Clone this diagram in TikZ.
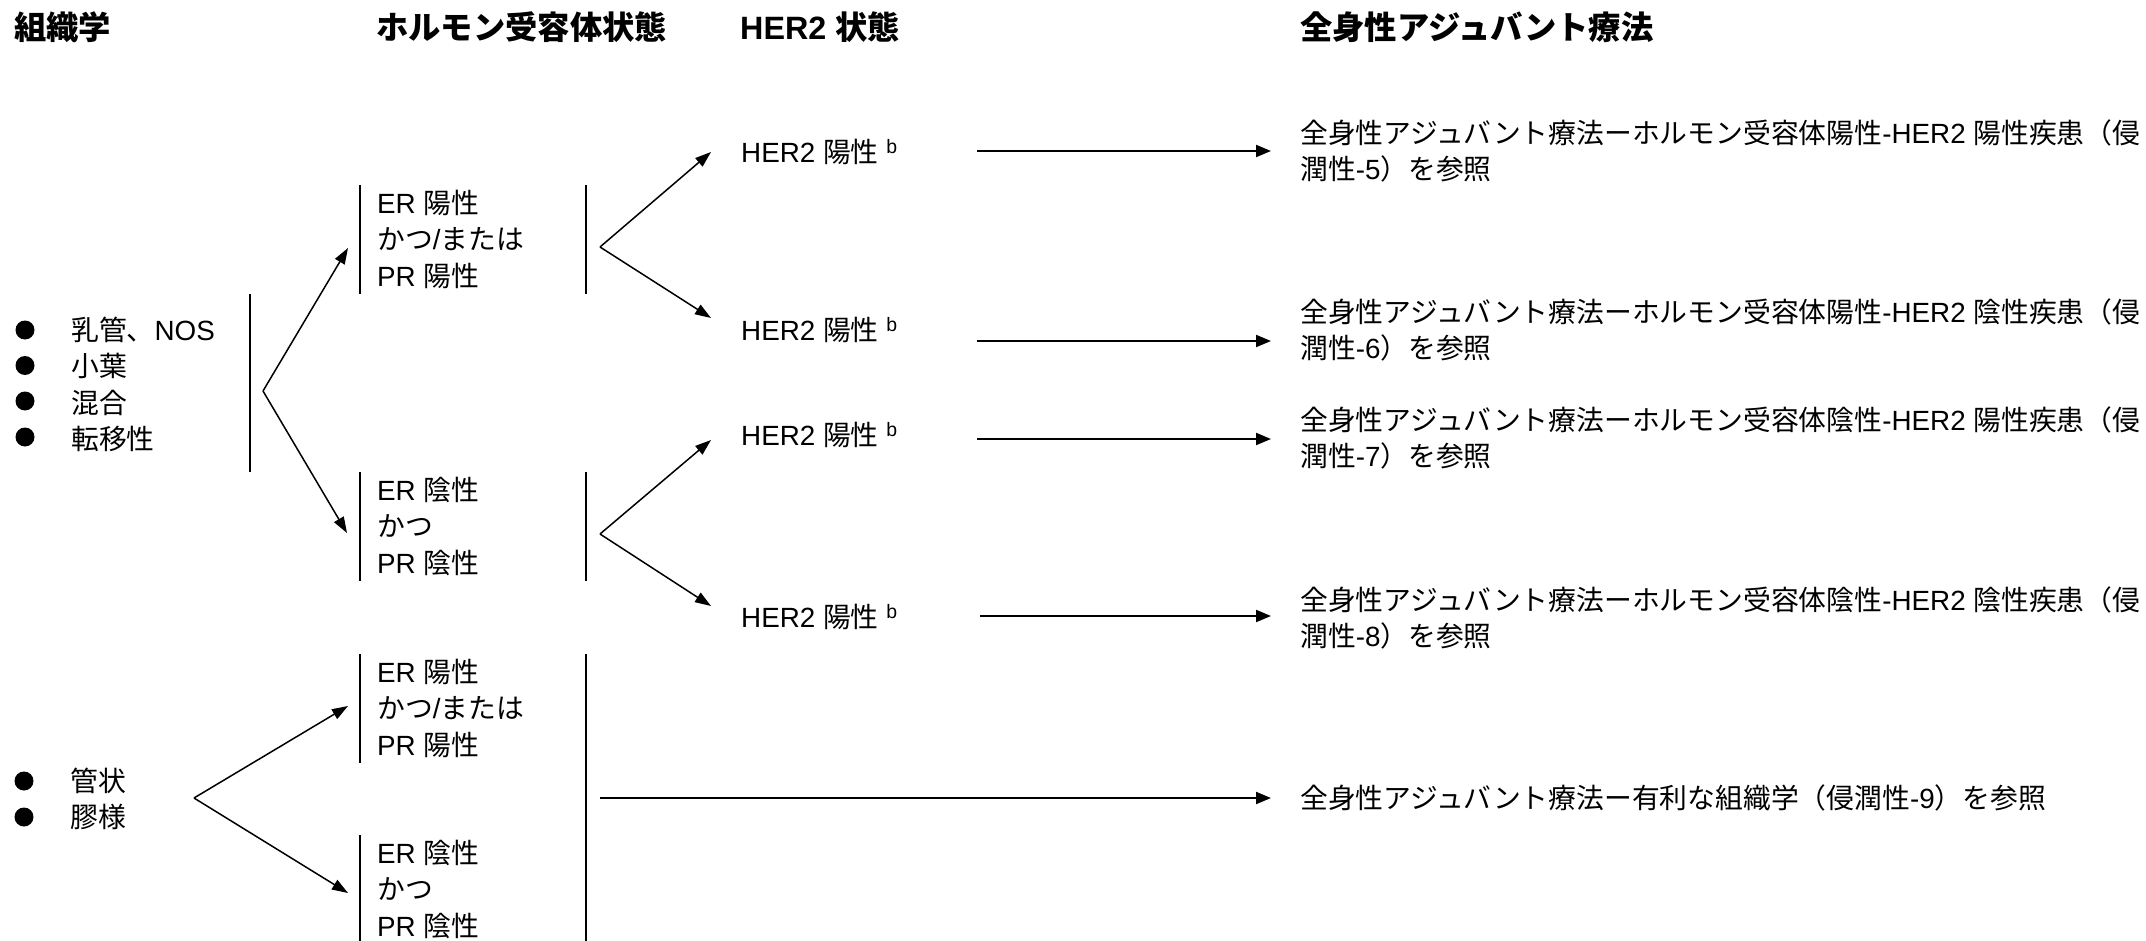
\documentclass[tikz,border=0pt]{standalone}
\usepackage{fontspec}
\setmainfont{Liberation Sans}
\newfontfamily\jpfont{Noto Sans CJK JP}
\newcommand{\JP}[1]{{\jpfont #1}}
\usetikzlibrary{arrows.meta}
\begin{document}
\begin{tikzpicture}[x=1pt,y=-1pt,
  txt/.style={anchor=base west, inner sep=0pt, font=\fontsize{27.8}{36.3}\selectfont},
  head/.style={anchor=base west, inner sep=0pt, font=\fontsize{32.3}{36}\selectfont\bfseries},
  bar/.style={line width=2pt},
  branch/.style={line width=1.5pt, -{Triangle[length=16pt,width=11pt]}},
  flow/.style={line width=2pt, -{Triangle[length=15pt,width=12pt]}},
  bullet/.style={circle, fill, inner sep=0pt, minimum size=19pt}]
\useasboundingbox (0,0) rectangle (2146,941);

% headers
\node[head] (h1) at (14,39.5) {\JP{組織学}};
\node[head] (h2) at (376,39.5) {\JP{ホルモン受容体状態}};
\node[head] (h3) at (740,39.5) {HER2 \JP{状態}};
\node[head] (h4) at (1300,39.5) {\JP{全身性アジュバント療法}};

% histology group A
\node[bullet] (ba1) at (25,330) {};
\node[bullet] (ba2) at (25,365.5) {};
\node[bullet] (ba3) at (25,401) {};
\node[bullet] (ba4) at (25,437) {};
\node[txt] (la) at (71,340.5) {\begin{tabular}[t]{@{}l@{}}\JP{乳管、}NOS\\\JP{小葉}\\\JP{混合}\\\JP{転移性}\end{tabular}};
\draw[bar] (250,294) -- (250,472);
\coordinate (A) at (263,391);
\coordinate (A1) at (348,248);
\coordinate (A2) at (347,533);
\draw[branch] (A) -- (A1);
\draw[branch] (A) -- (A2);

% box 1
\draw[bar] (360,185) -- (360,294);
\draw[bar] (586,185) -- (586,294);
\node[txt] (b1) at (377,213.5) {\begin{tabular}[t]{@{}l@{}}ER \JP{陽性}\\\JP{かつ}/\JP{または}\\PR \JP{陽性}\end{tabular}};
\coordinate (B1) at (600,247);
\coordinate (B1u) at (711,152);
\coordinate (B1d) at (711,318);
\draw[branch] (B1) -- (B1u);
\draw[branch] (B1) -- (B1d);

% box 2
\draw[bar] (360,472) -- (360,581);
\draw[bar] (586,472) -- (586,581);
\node[txt] (b2) at (377,500.5) {\begin{tabular}[t]{@{}l@{}}ER \JP{陰性}\\\JP{かつ}\\PR \JP{陰性}\end{tabular}};
\coordinate (B2) at (600,534);
\coordinate (B2u) at (711,440);
\coordinate (B2d) at (711,606);
\draw[branch] (B2) -- (B2u);
\draw[branch] (B2) -- (B2d);

% HER2 status
\node[txt] (e1) at (741,162.5) {HER2 \JP{陽性} \textsuperscript{b}};
\node[txt] (e2) at (741,340.5) {HER2 \JP{陽性} \textsuperscript{b}};
\node[txt] (e3) at (741,445.5) {HER2 \JP{陽性} \textsuperscript{b}};
\node[txt] (e4) at (741,627.5) {HER2 \JP{陽性} \textsuperscript{b}};

% flows
\coordinate (f1s) at (977,151);  \coordinate (f1e) at (1271,151);
\coordinate (f2s) at (977,341);  \coordinate (f2e) at (1271,341);
\coordinate (f3s) at (977,439);  \coordinate (f3e) at (1271,439);
\coordinate (f4s) at (980,616);  \coordinate (f4e) at (1271,616);
\coordinate (f5s) at (600,798);  \coordinate (f5e) at (1271,798);
\draw[flow] (f1s) -- (f1e);
\draw[flow] (f2s) -- (f2e);
\draw[flow] (f3s) -- (f3e);
\draw[flow] (f4s) -- (f4e);
\draw[flow] (f5s) -- (f5e);

% therapy texts
\node[txt] (r1) at (1300,143.5) {\begin{tabular}[t]{@{}l@{}}\JP{全身性アジュバント療法ーホルモン受容体陽性}-HER2 \JP{陽性疾患（侵}\\\JP{潤性}-5\JP{）を参照}\end{tabular}};
\node[txt] (r2) at (1300,322.5) {\begin{tabular}[t]{@{}l@{}}\JP{全身性アジュバント療法ーホルモン受容体陽性}-HER2 \JP{陰性疾患（侵}\\\JP{潤性}-6\JP{）を参照}\end{tabular}};
\node[txt] (r3) at (1300,430.5) {\begin{tabular}[t]{@{}l@{}}\JP{全身性アジュバント療法ーホルモン受容体陰性}-HER2 \JP{陽性疾患（侵}\\\JP{潤性}-7\JP{）を参照}\end{tabular}};
\node[txt] (r4) at (1300,610.5) {\begin{tabular}[t]{@{}l@{}}\JP{全身性アジュバント療法ーホルモン受容体陰性}-HER2 \JP{陰性疾患（侵}\\\JP{潤性}-8\JP{）を参照}\end{tabular}};
\node[txt] (r5) at (1300,808.5) {\JP{全身性アジュバント療法ー有利な組織学（侵潤性}-9\JP{）を参照}};

% histology group B
\node[bullet] (bb1) at (24,781) {};
\node[bullet] (bb2) at (24,817) {};
\node[txt] (lb) at (70,791.5) {\begin{tabular}[t]{@{}l@{}}\JP{管状}\\\JP{膠様}\end{tabular}};
\coordinate (C) at (194,798);
\coordinate (C1) at (348,706);
\coordinate (C2) at (348,893);
\draw[branch] (C) -- (C1);
\draw[branch] (C) -- (C2);

% boxes 3 and 4
\draw[bar] (360,654) -- (360,763);
\node[txt] (b3) at (377,682.5) {\begin{tabular}[t]{@{}l@{}}ER \JP{陽性}\\\JP{かつ}/\JP{または}\\PR \JP{陽性}\end{tabular}};
\draw[bar] (360,835) -- (360,941);
\node[txt] (b4) at (377,863.5) {\begin{tabular}[t]{@{}l@{}}ER \JP{陰性}\\\JP{かつ}\\PR \JP{陰性}\end{tabular}};
\draw[bar] (586,654) -- (586,941);
\end{tikzpicture}
\end{document}
